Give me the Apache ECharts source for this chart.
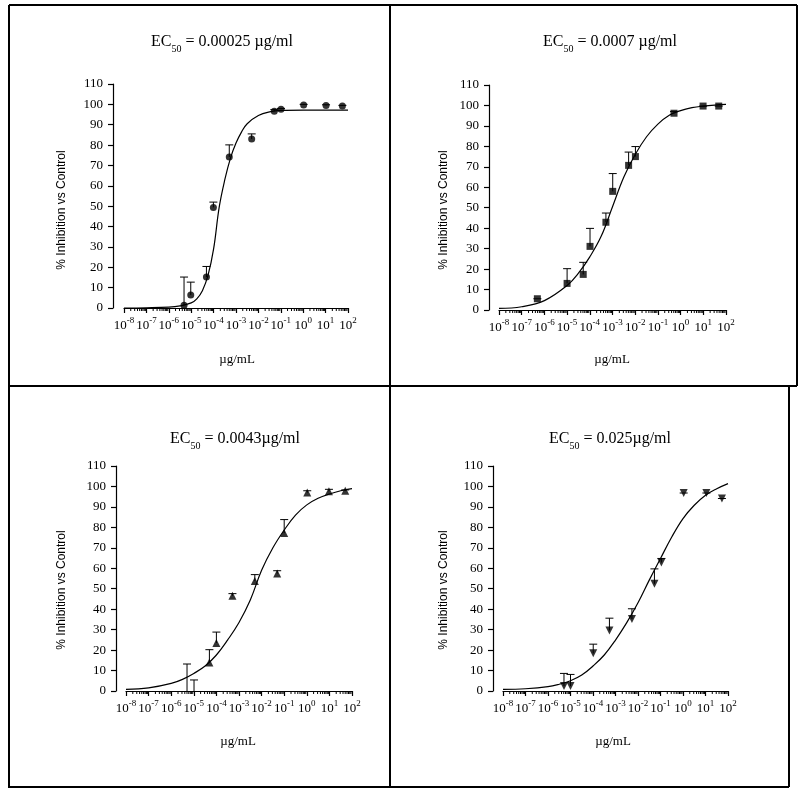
<!DOCTYPE html>
<html>
<head>
<meta charset="utf-8">
<script src="https://cdn.jsdelivr.net/npm/echarts@6/dist/echarts.min.js"></script>
<style>
html,body{margin:0;padding:0;background:#fff;}
#chart{width:800px;height:794px;}
</style>
</head>
<body>
<div id="chart"></div>
<script>
// ---------- DATA (x values are log10 of concentration in µg/mL) ----------
const titles = ['0.00025 µg/ml', '0.0007 µg/ml', '0.0043µg/ml', '0.025µg/ml'];
const xTickExponents = [-8, -7, -6, -5, -4, -3, -2, -1, 0, 1, 2];
const yTicks = [0, 10, 20, 30, 40, 50, 60, 70, 80, 90, 100, 110];
const minorTickFactors = [2, 3, 4, 5, 6, 7, 8, 9];

// Panel 1 (circles)
const p1LogConc = [-5.32, -5.02, -4.32, -4.01, -3.30, -2.30, -1.29, -0.99, 0.02, 1.02, 1.75];
const p1Value   = [1.3, 6.4, 15.2, 49.4, 74.2, 83.0, 96.6, 97.6, 99.7, 99.5, 99.2];
const p1ErrTop  = [15.2, 12.7, 20.4, 52.0, 80.1, 85.5, 97.4, 98.0, 100.0, 99.8, 99.5];
const p1CurveLog = [-8, -7, -6, -5.5, -5, -4.75, -4.5, -4.25, -4, -3.75, -3.5, -3.25, -3, -2.75, -2.5, -2, -1.5, -1, 0, 1, 2];
const p1CurveVal = [0.0, 0.1, 0.4, 1.0, 2.5, 4.5, 8.5, 16, 29, 49.5, 63, 73.5, 81, 86.5, 90.5, 94.5, 96.3, 97.0, 97.2, 97.2, 97.2];

// Panel 2 (squares)
const p2LogConc = [-6.31, -5.00, -4.29, -3.99, -3.29, -2.99, -2.29, -1.99, -0.29, 0.99, 1.68];
const p2Value   = [5.5, 13.0, 17.4, 31.1, 42.9, 58.0, 70.7, 75.0, 96.2, 99.7, 99.7];
const p2ErrTop  = [5.5, 20.2, 23.3, 39.9, 47.4, 66.7, 77.2, 79.9, 97.0, 99.7, 99.7];
const p2CurveLog = [-8, -7, -6, -5, -4.5, -4, -3.5, -3, -2.5, -2, -1.5, -1, -0.5, 0, 0.5, 1, 1.5, 2];
const p2CurveVal = [0.8, 1.6, 4.6, 12, 18, 26, 36, 50.5, 65, 76, 84.7, 90.9, 95.2, 97.5, 98.9, 99.7, 100.2, 100.5];

// Panel 3 (triangles)
const p3LogConc = [-5.30, -4.99, -4.31, -4.00, -3.29, -2.30, -1.31, -1.00, 0.02, 0.98, 1.70];
const p3Value   = [-3, -3, 13.9, 23.5, 46.6, 53.8, 57.4, 77.2, 97.0, 97.6, 97.9];
const p3ErrTop  = [13.2, 5.4, 20.2, 28.8, 47.6, 56.9, 58.8, 83.8, 97.9, 98.6, 98.3];
const p3CurveLog = [-8, -7, -6, -5.5, -5, -4.5, -4, -3.5, -3, -2.5, -2, -1.5, -1, -0.5, 0, 0.5, 1, 1.5, 2];
const p3CurveVal = [0.8, 1.5, 3.7, 5.7, 8.6, 12.2, 17.6, 25, 33.5, 44.5, 59, 70, 78.7, 86, 91, 94.2, 96.3, 97.9, 98.9];

// Panel 4 (inverted triangles)
const p4LogConc = [-5.29, -5.00, -4.27, -3.99, -3.27, -2.27, -1.27, -0.96, 0.03, 1.04, 1.73];
const p4Value   = [2.4, 2.4, -1, 18.4, 29.6, 35.2, 52.4, 62.8, 96.8, 96.8, 94.1];
const p4ErrTop  = [8.6, 8.1, -1, 22.9, 35.6, 40.2, 59.7, 64.8, 96.8, 96.8, 94.1];
const p4CurveLog = [-8, -7, -6, -5.5, -5, -4.5, -4, -3.5, -3, -2.5, -2, -1.5, -1, -0.5, 0, 0.5, 1, 1.5, 2];
const p4CurveVal = [0.8, 1.1, 2.1, 3.3, 5.0, 7.8, 12.2, 17.6, 24.9, 33.4, 43.1, 54.2, 64.8, 75.3, 84.3, 90.8, 95.7, 98.9, 101.4];

// ---------- LAYOUT ----------
const SERIF = '"Liberation Serif","DejaVu Serif",serif';
const SANS = '"Liberation Sans","DejaVu Sans",sans-serif';
const panels = [
  {grid:{left:124, top:84, width:224, height:224}, yOff:11, title:[217,29], ylab:[62,210], xlab:[237,360],
   logs:p1LogConc, vals:p1Value, errs:p1ErrTop, cl:p1CurveLog, cv:p1CurveVal, symbol:'circle', size:7, rot:0},
  {grid:{left:499, top:85, width:227, height:225}, yOff:10, title:[605,29], ylab:[444,210], xlab:[612,360],
   logs:p2LogConc, vals:p2Value, errs:p2ErrTop, cl:p2CurveLog, cv:p2CurveVal, symbol:'rect', size:7, rot:0},
  {grid:{left:126, top:466, width:226, height:225}, yOff:10, title:[230,426], ylab:[62,590], xlab:[238,742],
   logs:p3LogConc, vals:p3Value, errs:p3ErrTop, cl:p3CurveLog, cv:p3CurveVal, symbol:'triangle', size:8, rot:0},
  {grid:{left:503, top:466, width:225, height:225}, yOff:10, title:[605,426], ylab:[444,590], xlab:[613,742],
   logs:p4LogConc, vals:p4Value, errs:p4ErrTop, cl:p4CurveLog, cv:p4CurveVal, symbol:'triangle', size:8, rot:180}
];

const minorPositions = [];
for (let d = xTickExponents[0]; d < xTickExponents[xTickExponents.length-1]; d++) {
  minorTickFactors.forEach(f => minorPositions.push([d + Math.log10(f), 0]));
}

const option = {
  animation:false,
  backgroundColor:'#fff',
  title:[], grid:[], xAxis:[], yAxis:[], series:[], graphic:[]
};

panels.forEach((p, i) => {
  option.title.push({
    text:'{n|EC}{s|50}{n| = ' + titles[i] + '}',
    left:p.title[0], top:p.title[1], textAlign:'center',
    textStyle:{fontWeight:'normal', rich:{
      n:{fontFamily:SERIF, fontSize:16, fontWeight:'normal', color:'#000', lineHeight:20, verticalAlign:'top'},
      s:{fontFamily:SERIF, fontSize:10, fontWeight:'normal', color:'#000', lineHeight:20, verticalAlign:'bottom'}
    }}
  });
  option.grid.push(Object.assign({containLabel:false}, p.grid));
  option.xAxis.push({
    type:'value', gridIndex:i, min:-8, max:2, interval:1,
    axisLine:{show:true, onZero:false, lineStyle:{color:'#000', width:1.2}},
    axisTick:{show:true, length:5, inside:false, lineStyle:{color:'#000', width:1.2}},
    splitLine:{show:false},
    axisLabel:{show:true, margin:8, interval:0, hideOverlap:false,
      formatter:v => '{b|10}{s|' + Math.round(v) + '}',
      rich:{
        b:{fontFamily:SERIF, fontSize:13, color:'#000', lineHeight:16, verticalAlign:'bottom'},
        s:{fontFamily:SERIF, fontSize:9, color:'#000', lineHeight:16, verticalAlign:'top'}
      }}
  });
  option.yAxis.push({
    type:'value', gridIndex:i, min:0, max:110, interval:10, offset:p.yOff,
    axisLine:{show:true, onZero:false, lineStyle:{color:'#000', width:1.2}},
    axisTick:{show:true, length:5, inside:false, lineStyle:{color:'#000', width:1.2}},
    splitLine:{show:false},
    axisLabel:{show:true, margin:10, fontFamily:SERIF, fontSize:13, color:'#000'}
  });
  // minor log ticks
  option.series.push({
    type:'custom', xAxisIndex:i, yAxisIndex:i, silent:true, clip:false,
    data:minorPositions,
    renderItem:(params, api) => {
      const c = api.coord([api.value(0), 0]);
      return {type:'line', shape:{x1:c[0], y1:c[1], x2:c[0], y2:c[1]+3}, style:{stroke:'#000', lineWidth:1}};
    }
  });
  // fitted curve
  option.series.push({
    type:'line', xAxisIndex:i, yAxisIndex:i, smooth:0.4, symbol:'none', clip:true,
    data:p.cl.map((x, k) => [x, p.cv[k]]),
    lineStyle:{color:'#000', width:1.2}
  });
  // error bars (upper half with cap)
  option.series.push({
    type:'custom', xAxisIndex:i, yAxisIndex:i, silent:true, clip:true,
    data:p.logs.map((x, k) => [x, p.vals[k], p.errs[k]]),
    renderItem:(params, api) => {
      const a = api.coord([api.value(0), api.value(1)]);
      const b = api.coord([api.value(0), api.value(2)]);
      return {type:'group', children:[
        {type:'line', shape:{x1:a[0], y1:a[1], x2:b[0], y2:b[1]}, style:{stroke:'#000', lineWidth:1}},
        {type:'line', shape:{x1:b[0]-4, y1:b[1], x2:b[0]+4, y2:b[1]}, style:{stroke:'#000', lineWidth:1}}
      ]};
    }
  });
  // markers
  option.series.push({
    type:'scatter', xAxisIndex:i, yAxisIndex:i, clip:true,
    symbol:p.symbol, symbolSize:p.size, symbolRotate:p.rot,
    data:p.logs.map((x, k) => [x, p.vals[k]]),
    itemStyle:{color:'#000'}
  });
  option.graphic.push({
    type:'text', x:p.ylab[0], y:p.ylab[1], rotation:Math.PI/2,
    style:{text:'% Inhibition vs Control', fontFamily:SANS, fontSize:12, fill:'#000', align:'center', verticalAlign:'middle'}
  });
  option.graphic.push({
    type:'text', x:p.xlab[0], y:p.xlab[1],
    style:{text:'µg/mL', fontFamily:SERIF, fontSize:13, fill:'#000', align:'center', verticalAlign:'middle'}
  });
});

// panel borders
const borderStyle = {stroke:'#000', lineWidth:2};
[
  [9, 5, 797, 5], [9, 5, 9, 788], [390, 5, 390, 788], [797, 5, 797, 386],
  [9, 386, 797, 386], [9, 787, 789, 787], [789, 386, 789, 787]
].forEach(s => option.graphic.push({type:'line', shape:{x1:s[0], y1:s[1], x2:s[2], y2:s[3]}, style:borderStyle}));

const chart = echarts.init(document.getElementById('chart'), null, {renderer:'canvas'});
chart.setOption(option);
</script>
</body>
</html>
